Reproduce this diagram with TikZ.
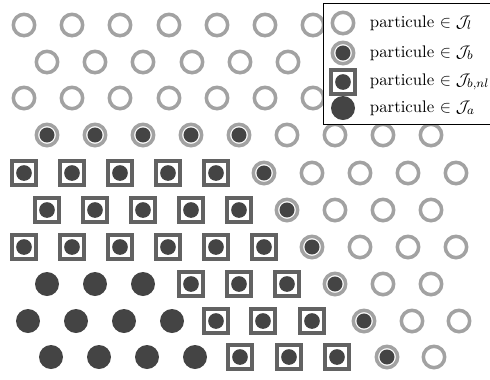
\documentclass[tikz,border=0pt]{standalone}
\usepackage{tikz}
\usetikzlibrary{positioning}
\definecolor{gris}{RGB}{162,162,162}
\definecolor{fonce}{RGB}{68,68,68}
\definecolor{cadre}{RGB}{98,98,98}
\tikzset{
    libre/.style={
        circle,
        draw=gris, line width=2.3pt,
        minimum size=13.9pt,
        inner sep=0pt
    },
    bord/.style={
        libre,
        path picture={\fill[fonce] (path picture bounding box.center) circle (4.9pt);}
    },
    bordnl/.style={
        rectangle,
        draw=cadre, line width=2.6pt,
        minimum size=15pt,
        inner sep=0pt,
        path picture={\fill[fonce] (path picture bounding box.center) circle (5.1pt);}
    },
    actif/.style={
        circle,
        fill=fonce,
        minimum size=15.6pt,
        inner sep=0pt
    },
    texte/.style={font=\fontsize{10.9}{13}\selectfont}
}

\begin{document}
\begin{tikzpicture}[x=0.65pt, y=-0.65pt]
    \useasboundingbox (0,0) rectangle (490,379);
    \clip (0,0) rectangle (490,379);
    % reseau de particules, rangee par rangee
    \foreach \y/\rang in {
        25/{24/libre,72/libre,120/libre,169/libre,217/libre,265/libre,313/libre},
        62/{47/libre,95/libre,143/libre,192/libre,240/libre,288/libre},
        98/{24/libre,72/libre,120/libre,169/libre,217/libre,265/libre,313/libre},
        135/{47/bord,95/bord,143/bord,191/bord,239/bord,287/libre,335/libre,383/libre,431/libre},
        173/{24/bordnl,72/bordnl,120/bordnl,168/bordnl,216/bordnl,264/bord,312/libre,360/libre,408/libre,456/libre},
        210/{47/bordnl,95/bordnl,143/bordnl,191/bordnl,239/bordnl,287/bord,335/libre,383/libre,431/libre},
        247/{24/bordnl,72/bordnl,120/bordnl,168/bordnl,216/bordnl,264/bordnl,312/bord,360/libre,408/libre,456/libre},
        284/{47/actif,95/actif,143/actif,191/bordnl,239/bordnl,287/bordnl,335/bord,383/libre,431/libre},
        321/{28/actif,76/actif,124/actif,172/actif,216/bordnl,263/bordnl,312/bordnl,364/bord,412/libre,459/libre},
        357/{51/actif,99/actif,147/actif,195/actif,240/bordnl,289/bordnl,337/bordnl,387/bord,434/libre}}
        \foreach \x/\type in \rang
            \node[\type] (p-\x-\y) at (\x,\y) {};
    % legende
    \draw[fill=white, line width=0.65pt] (323,3) rectangle (500,124);
    \node[libre] (s1) at (343,23) {};
    \node[bord] (s2) at (343,53) {};
    \node[bordnl] (s3) at (343,82) {};
    \node[actif] (s4) at (343,108) {};
    \node[texte, right=14pt of s1.center] (t1) {particule $\in \mathcal{J}_l$};
    \node[texte, right=14pt of s2.center] (t2) {particule $\in \mathcal{J}_b$};
    \node[texte, right=14pt of s3.center] (t3) {particule $\in \mathcal{J}_{b,nl}$};
    \node[texte, right=14pt of s4.center] (t4) {particule $\in \mathcal{J}_a$};
\end{tikzpicture}
\end{document}
